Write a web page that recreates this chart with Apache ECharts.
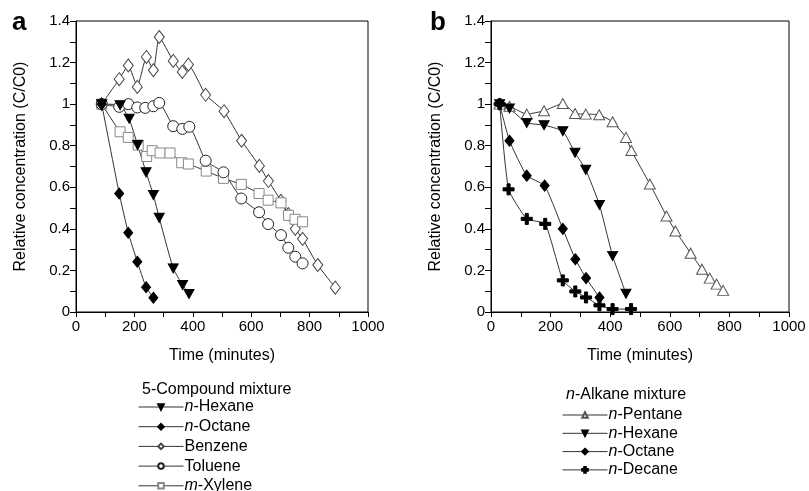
<!DOCTYPE html>
<html><head><meta charset="utf-8">
<script src="https://cdn.jsdelivr.net/npm/echarts@6/dist/echarts.min.js"></script>
<style>html,body{margin:0;padding:0;background:#fff}#c{width:809px;height:491px}</style>
</head><body><div id="c"></div>
<script>
// Panel a: 5-compound mixture
var aHexaneT = [88,151,182,211,240,265,285,333,365,387];
var aHexaneV = [1.0,0.995,0.93,0.803,0.672,0.563,0.453,0.21,0.13,0.087];
var aOctaneT = [88,148,179,210,240,265];
var aOctaneV = [1.0,0.57,0.381,0.242,0.119,0.069];
var aBenzeneT = [88,148,179,210,241,265,285,333,364,385,444,507,567,628,659,702,727,751,776,828,888];
var aBenzeneV = [1.0,1.12,1.186,1.083,1.227,1.163,1.323,1.208,1.155,1.19,1.045,0.966,0.824,0.703,0.63,0.535,0.471,0.40,0.352,0.226,0.117];
var aTolueneT = [88,148,179,210,237,265,285,333,364,388,444,505,566,627,658,702,727,751,776];
var aTolueneV = [1.0,0.987,1.0,0.984,0.982,0.99,1.006,0.894,0.881,0.891,0.728,0.672,0.546,0.48,0.423,0.37,0.309,0.266,0.234];
var aXyleneT = [88,151,179,213,242,261,288,322,362,385,446,505,566,627,658,702,728,750,776];
var aXyleneV = [1.0,0.867,0.84,0.803,0.748,0.776,0.765,0.765,0.718,0.712,0.678,0.643,0.614,0.57,0.538,0.525,0.465,0.446,0.434];
// Panel b: n-alkane mixture
var bPentaneT = [29,62,120,178,241,282,318,363,408,453,471,533,589,619,670,708,734,757,779];
var bPentaneV = [1.0,0.99,0.952,0.968,1.003,0.955,0.952,0.949,0.915,0.84,0.777,0.616,0.462,0.39,0.283,0.206,0.163,0.134,0.104];
var bHexaneT = [29,62,120,178,241,282,318,364,408,453];
var bHexaneV = [1.0,0.979,0.91,0.899,0.87,0.766,0.684,0.515,0.27,0.088];
var bOctaneT = [29,62,120,180,241,283,319,364];
var bOctaneV = [1.0,0.824,0.656,0.608,0.4,0.254,0.163,0.07];
var bDecaneT = [29,59,120,182,241,283,319,364,408,470];
var bDecaneV = [1.0,0.59,0.448,0.424,0.152,0.099,0.07,0.032,0.014,0.014];

var xTicks = [0,200,400,600,800,1000];
var yTicks = [0,0.2,0.4,0.6,0.8,1,1.2,1.4];

var legendA = ['a|n-Hexane','a|n-Octane','a|Benzene','a|Toluene','a|m-Xylene'];
var legendB = ['b|n-Pentane','b|n-Hexane','b|n-Octane','b|n-Decane'];

function zip(t, v){ return t.map(function(x,i){return [x, v[i]];}); }

var FONT = 'Liberation Sans, Arial, sans-serif';
var DOWN = 'path://M0,0 L10,0 L5,9 Z';
var PLUS = 'path://M3.6,0h2.8v3.6h3.6v2.8h-3.6v3.6h-2.8v-3.6h-3.6v-2.8h3.6z';

function xAxis(gi){
  return {gridIndex:gi, type:'value', min:xTicks[0], max:xTicks[xTicks.length-1], interval:xTicks[1]-xTicks[0],
    name:'Time (minutes)', nameLocation:'middle', nameGap:36,
    nameTextStyle:{fontFamily:FONT, fontSize:16, color:'#000'},
    axisLine:{show:true, onZero:false, lineStyle:{color:'#000', width:1}},
    axisTick:{show:true, inside:false, length:5, lineStyle:{color:'#000'}},
    minorTick:{show:true, splitNumber:2, length:5, lineStyle:{color:'#000'}},
    splitLine:{show:false},
    axisLabel:{fontFamily:FONT, fontSize:15, color:'#000', margin:7, formatter:function(v){return String(v);}}};
}
function yAxis(gi){
  return {gridIndex:gi, type:'value', min:yTicks[0], max:yTicks[yTicks.length-1], interval:yTicks[1]-yTicks[0],
    name:'Relative concentration (C/C0)', nameLocation:'middle', nameGap:47,
    nameTextStyle:{fontFamily:FONT, fontSize:16, color:'#000'},
    axisLine:{show:true, onZero:false, lineStyle:{color:'#000', width:1}},
    axisTick:{show:true, inside:false, length:6, lineStyle:{color:'#000'}},
    minorTick:{show:true, splitNumber:2, length:6, lineStyle:{color:'#000'}},
    splitLine:{show:false},
    axisLabel:{fontFamily:FONT, fontSize:15, color:'#000', margin:6}};
}
function ser(name, gi, t, v, symbol, size, color, fill){
  return {name:name, type:'line', xAxisIndex:gi, yAxisIndex:gi, data:zip(t,v),
    symbol:symbol, symbolSize:size, smooth:0.15, showAllSymbol:true,
    lineStyle:{color:'#333', width:1},
    itemStyle:{color:fill, borderColor:color, borderWidth:1},
    emphasis:{disabled:true}, z:3};
}

var rich = {i:{fontStyle:'italic', fontWeight:'normal', fontFamily:FONT, fontSize:16, color:'#000'},
            r:{fontWeight:'normal', fontFamily:FONT, fontSize:16, color:'#000'}};
function fmt(name){
  var s = name.split('|')[1];
  var m = s.match(/^([nm])-(.*)$/);
  if (m) return '{i|' + m[1] + '}{r|-' + m[2] + '}';
  return '{r|' + s + '}';
}
function legend(data, left, top, gap){
  return {data:data, orient:'vertical', left:left, top:top, height:160, width:200, itemWidth:45, itemHeight:7, itemGap:gap,
    formatter:fmt, textStyle:{rich:rich, fontFamily:FONT, fontSize:16, color:'#000', padding:[0,0,0,-4]},
    lineStyle:{width:1, color:'#333'},
    selectedMode:false, inactiveColor:'#000'};
}

var chart = echarts.init(document.getElementById('c'), null, {renderer:'canvas'});
chart.setOption({
  animation:false,
  backgroundColor:'#fff',
  grid:[
    {left:76, top:21, width:292, height:291, show:true, borderColor:'#000', borderWidth:1, backgroundColor:'transparent'},
    {left:491, top:21, width:298, height:291, show:true, borderColor:'#000', borderWidth:1, backgroundColor:'transparent'}
  ],
  xAxis:[xAxis(0), xAxis(1)],
  yAxis:[yAxis(0), yAxis(1)],
  title:[
    {text:'a', left:7, top:5, textStyle:{fontFamily:FONT, fontSize:26, fontWeight:'bold', color:'#000'}},
    {text:'b', left:425, top:5, textStyle:{fontFamily:FONT, fontSize:26, fontWeight:'bold', color:'#000'}},
    {text:'{r|5-Compound mixture}', left:137, top:377, textStyle:{rich:rich, fontWeight:'normal'}},
    {text:'{i|n}{r|-Alkane mixture}', left:561, top:382, textStyle:{rich:rich, fontWeight:'normal'}}
  ],
  legend:[legend(legendA, 133, 394, 3.7), legend(legendB, 557, 402, 2.3)],
  series:[
    ser('a|Benzene', 0, aBenzeneT, aBenzeneV, 'diamond', [10,13], '#444', '#fff'),
    ser('a|m-Xylene', 0, aXyleneT, aXyleneV, 'rect', 10, '#888', '#fff'),
    ser('a|Toluene', 0, aTolueneT, aTolueneV, 'circle', 11, '#222', '#fff'),
    ser('a|n-Hexane', 0, aHexaneT, aHexaneV, DOWN, [10,9], '#000', '#000'),
    ser('a|n-Octane', 0, aOctaneT, aOctaneV, 'diamond', [9,11], '#000', '#000'),
    ser('b|n-Pentane', 1, bPentaneT, bPentaneV, 'triangle', [11,10], '#555', '#fff'),
    ser('b|n-Hexane', 1, bHexaneT, bHexaneV, DOWN, [10,9], '#000', '#000'),
    ser('b|n-Octane', 1, bOctaneT, bOctaneV, 'diamond', [9,11], '#000', '#000'),
    ser('b|n-Decane', 1, bDecaneT, bDecaneV, PLUS, 11, '#000', '#000')
  ]
});
</script></body></html>
